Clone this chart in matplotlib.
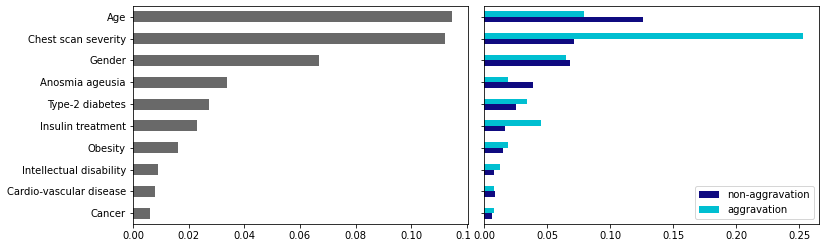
import matplotlib
matplotlib.use("Agg")
import matplotlib.pyplot as plt
from matplotlib.transforms import Bbox, TransformedBbox
import numpy as np

# feature importances, top to bottom as shown
features = ["Age", "Chest scan severity", "Gender", "Anosmia ageusia",
            "Type-2 diabetes", "Insulin treatment", "Obesity",
            "Intellectual disability", "Cardio-vascular disease", "Cancer"]
overall = [0.1147, 0.1121, 0.0668, 0.0337, 0.0272, 0.0229, 0.0161,
           0.0089, 0.0078, 0.0060]
non_aggravation = [0.1260, 0.0712, 0.0680, 0.0386, 0.0252, 0.0164, 0.0148,
                   0.0077, 0.0085, 0.0061]
aggravation = [0.0791, 0.2529, 0.0651, 0.0188, 0.0339, 0.0450, 0.0188,
               0.0125, 0.0077, 0.0077]

# drawn bottom-up like pandas barh on a reversed frame
feats_r = features[::-1]
y = np.arange(len(feats_r))

fig = plt.figure(figsize=(832 / 72, 252 / 72), dpi=72)
ax1 = fig.add_axes([133 / 832, 28 / 252, 335 / 832, 218 / 252])
ax2 = fig.add_axes([484 / 832, 28 / 252, 335 / 832, 218 / 252], sharey=ax1)

ax1.barh(y, overall[::-1], height=0.5, color="dimgray")
ax1.set_yticks(y)
ax1.set_yticklabels(feats_r)
ax1.set_ylim(-0.5, len(y) - 0.5)
ax1.set_xlim(0, max(overall) * 1.05)
ax1.set_xticks([0, 0.02, 0.04, 0.06, 0.08, 0.10, 0.12])
ax1.set_xticklabels(["0.00", "0.02", "0.04", "0.06", "0.08", "0.10", "0.12"])
# the last label runs under the right panel in the original, so cut it off
clip = TransformedBbox(Bbox([[0, 0], [471 / 832, 1]]), fig.transFigure)
last = ax1.get_xticklabels()[-1]
last.set_clip_box(clip)
last.set_clip_on(True)

w = 0.25
ax2.barh(y - w / 2, non_aggravation[::-1], height=w, color="#0f0a80",
         label="non-aggravation")
ax2.barh(y + w / 2, aggravation[::-1], height=w, color="#00bfd1",
         label="aggravation")
ax2.set_xlim(0, max(aggravation) * 1.05)
ax2.tick_params(axis="y", labelleft=False)
ax2.legend(loc="lower right")

fig.savefig("out.png", dpi=72)
